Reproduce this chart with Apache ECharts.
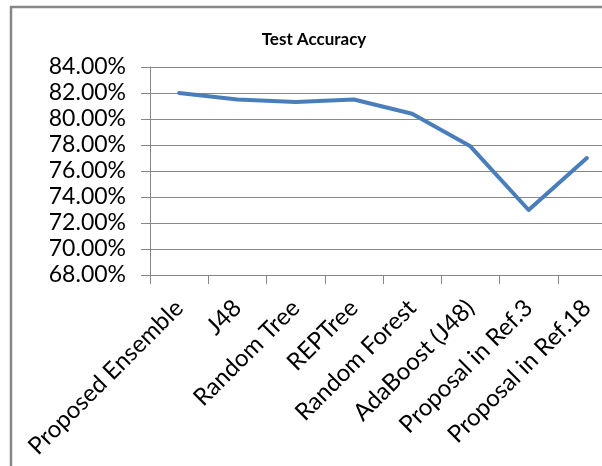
<!DOCTYPE html>
<html>
<head>
<meta charset="utf-8">
<script src="https://cdn.jsdelivr.net/npm/echarts@6/dist/echarts.min.js"></script>
<style>
  html, body { margin: 0; padding: 0; background: #ffffff; }
  #chart { width: 602px; height: 466px; }
</style>
</head>
<body>
<div id="chart"></div>
<script>
// Classifier names along the x axis
const methods = [
  'Proposed Ensemble', 'J48', 'Random Tree', 'REPTree',
  'Random Forest', 'AdaBoost (J48)', 'Proposal in Ref.3', 'Proposal in Ref.18'
];
// Test accuracy of each method, in percent
const accuracy = [82.0, 81.5, 81.3, 81.5, 80.4, 77.9, 73.0, 77.0];
// Value axis range and step, in percent
const yMin = 68;
const yMax = 84;
const yStep = 2;

const gray = '#878787';
const font = 'Lato, "Liberation Sans", sans-serif';

const chart = echarts.init(document.getElementById('chart'), null, { renderer: 'canvas' });
chart.setOption({
  animation: false,
  backgroundColor: '#ffffff',
  title: {
    text: 'Test Accuracy',
    left: 309,
    top: 26,
    textAlign: 'center',
    textStyle: { fontFamily: font, fontSize: 17, fontWeight: 'bold', color: '#000000' }
  },
  graphic: [{
    type: 'polyline',
    shape: { points: [[11, 466], [11, 7], [602, 7]] },
    style: { stroke: gray, lineWidth: 2.5, fill: null }
  }],
  // plot area runs a little past the right edge of the canvas
  grid: {
    left: 150, top: 67, width: 466, bottom: 191,
    containLabel: false,
    outerBoundsMode: 'none'
  },
  xAxis: {
    type: 'category',
    data: methods,
    boundaryGap: true,
    axisLine: { lineStyle: { color: gray, width: 1 } },
    axisTick: { show: true, length: 9, alignWithLabel: false, lineStyle: { color: gray } },
    axisLabel: {
      rotate: 45,
      interval: 0,
      margin: 29,
      fontFamily: font,
      fontSize: 24,
      color: '#000000'
    },
    splitLine: { show: false }
  },
  yAxis: {
    type: 'value',
    min: yMin,
    max: yMax,
    interval: yStep,
    axisLine: { show: true, lineStyle: { color: gray, width: 1 } },
    axisTick: { show: true, length: 9, lineStyle: { color: gray } },
    axisLabel: {
      margin: 24,
      fontFamily: font,
      fontSize: 23,
      color: '#000000',
      formatter: v => v.toFixed(2) + '%'
    },
    splitLine: { show: true, lineStyle: { color: gray, width: 1 } }
  },
  series: [{
    type: 'line',
    data: accuracy,
    symbol: 'none',
    lineStyle: { color: '#4a7ebb', width: 4, join: 'round', cap: 'round' },
    itemStyle: { color: '#4a7ebb' }
  }]
});
</script>
</body>
</html>
